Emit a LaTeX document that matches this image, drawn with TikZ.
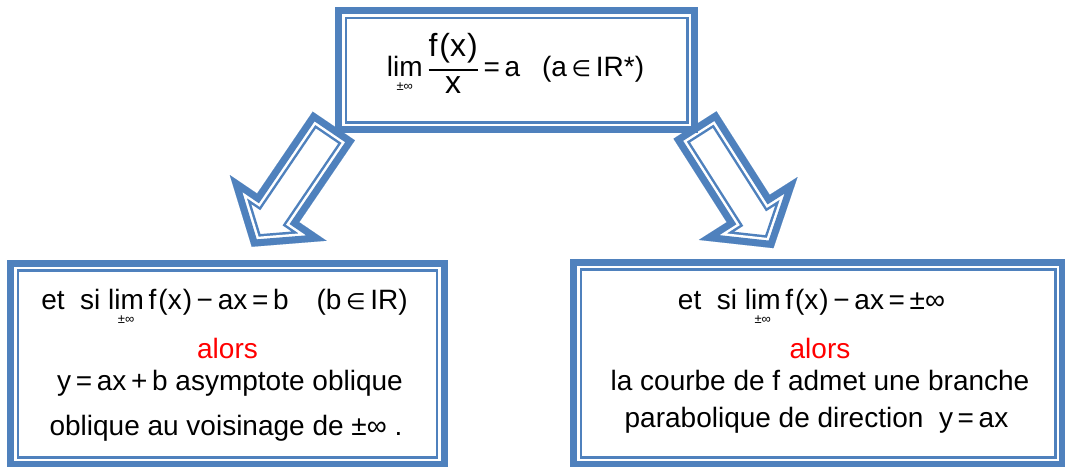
\documentclass[tikz,border=0pt]{standalone}
\usepackage{amsmath}
\usepackage{fontspec}
\setmainfont{Liberation Sans}
\newfontfamily\dv[Scale=0.8]{DejaVu Sans}
\usetikzlibrary{backgrounds,calc}
\definecolor{bl}{HTML}{4F81BD}
\pgfdeclarelayer{bottomlayer}
\pgfsetlayers{bottomlayer,background,main}
\newcommand\lm{\ensuremath{\mathop{\hbox{lim}}\limits_{\hbox{\fontsize{13}{13}\selectfont ±∞}}}}
\newcommand\inn{{\dv ∈}}
\newcommand\fx{f\kern2pt(x\kern1pt)}
\newcommand\arrowshape[1]{\path[#1] (0,-25.5) -- (99,-25.5) -- (99,-58.5) -- (146,0) -- (99,58.5) -- (99,25.5) -- (0,25.5) -- cycle;}
\newcommand\blockarrow[2]{%
  \begin{scope}[shift={(#1)}, rotate=#2]
    \begin{scope}
      \arrowshape{clip}
      \arrowshape{fill=white}
      \arrowshape{draw=bl,line width=24pt,line join=miter}
      \arrowshape{draw=white,line width=19pt,line join=miter}
      \arrowshape{draw=bl,line width=14pt,line join=miter}
    \end{scope}
  \end{scope}}
\newcommand\thinframe[1]{\draw[bl, line width=2.5pt] ($(#1.north west)+(7.25,7.25)$) rectangle ($(#1.south east)+(-7.25,-7.25)$);}
\tikzset{
  box/.style={draw=bl, line width=7pt, fill=white, inner sep=0pt, outer sep=0pt},
  txt/.style={anchor=base, inner sep=0pt, font=\fontsize{28}{32}\selectfont},
  toptxt/.style={anchor=base, inner sep=0pt, font=\fontsize{28}{32}\selectfont},
}
\begin{document}
\begin{tikzpicture}[x=1pt,y=-1pt]
\useasboundingbox (0,0) rectangle (1065,466);
\begin{pgfonlayer}{bottomlayer}
  \fill[white] (0,0) rectangle (1065,466);
\end{pgfonlayer}
% boxes
\node[box, minimum width=356pt, minimum height=119pt] (top) at (516.5,70) {};
\node[box, minimum width=433.5pt, minimum height=201.5pt] (left) at (227.25,363.75) {};
\node[box, minimum width=489pt, minimum height=202.5pt] (right) at (818,363.25) {};
\thinframe{top}
\thinframe{left}
\thinframe{right}
% arrows (behind the top box)
\coordinate (lt) at ([shift={(-4.7,-3.5)}]top.south west);
\coordinate (rt) at ([shift={(0.5,-4.5)}]top.south east);
\begin{pgfonlayer}{background}
  \blockarrow{lt}{-124.2}
  \blockarrow{rt}{-57.5}
\end{pgfonlayer}
% texts
\node[toptxt] (t1) at (515.5,76) {\lm\,$\genfrac{}{}{1.8pt}{0}{\hbox{\fontsize{32}{32}\selectfont\fx}}{\hbox{\fontsize{32}{32}\selectfont x}}$\,=\,a\hspace{22pt}(a\,\inn\,IR*)};
\node[txt] (l1) at (224.5,309) {et\ \ si \lm\,\fx\,−\,ax\,=\,b\quad (b\,\inn\,IR)};
\node[txt, text=red] (l2) at (227.5,358) {alors};
\node[txt] (l3) at (230,390) {y\,=\,ax\,+\,b asymptote oblique};
\node[txt] (l4) at (226,435) {oblique au voisinage de ±∞\ .};
\node[txt] (r1) at (811.5,309) {et\ \ si \lm\,\fx\,−\,ax\,=\,±∞};
\node[txt, text=red] (r2) at (820,358) {alors};
\node[txt] (r3) at (820,390) {la courbe de f admet une branche};
\node[txt] (r4) at (816.5,427) {parabolique de direction\ \ y\,=\,ax};
\end{tikzpicture}
\end{document}
